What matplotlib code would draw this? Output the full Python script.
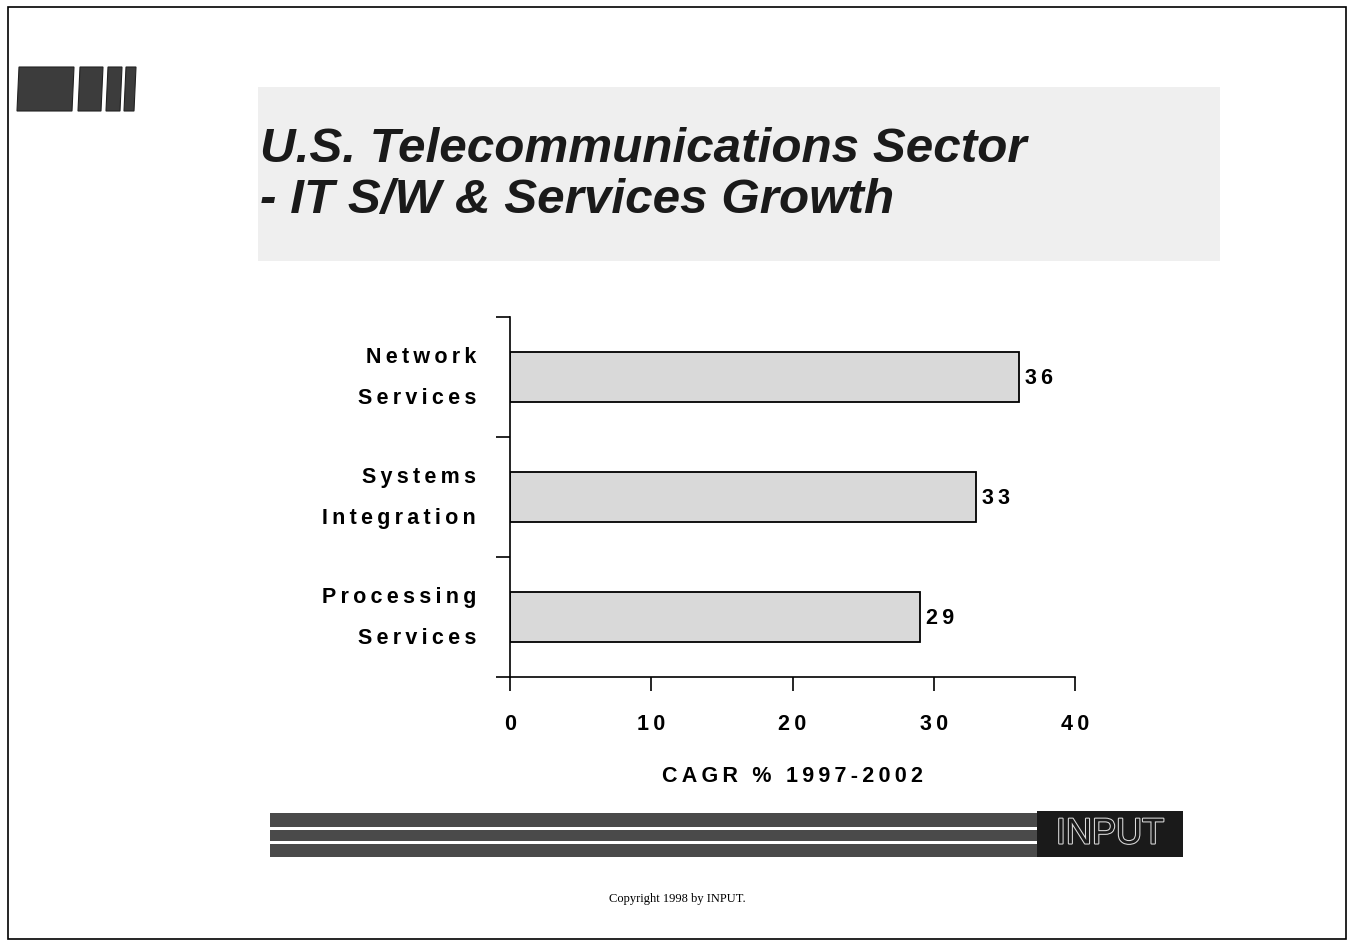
import matplotlib
matplotlib.use("Agg")
import matplotlib.pyplot as plt
import matplotlib.patheffects as pe
from matplotlib.patches import Rectangle, Polygon

# Data
categories = ["Processing\nServices", "Systems\nIntegration", "Network\nServices"]
values = [29, 33, 36]
x_ticks = [0, 10, 20, 30, 40]
title_lines = ["U.S. Telecommunications Sector", "- IT S/W & Services Growth"]
x_label = "CAGR % 1997-2002"

W, H = 1351, 945
fig = plt.figure(figsize=(13.51, 9.45), dpi=100)
fig.patch.set_facecolor("white")


def fx(px):
    return px / W


def fy(py):
    return 1 - py / H


def spaced(s):
    # the slide font is letter-spaced, add thin spaces between characters
    return "\u2009".join(s)


# Page frame
fig.add_artist(Rectangle((fx(8), fy(940)), fx(1338), 932 / H, transform=fig.transFigure,
                         fill=False, edgecolor="black", linewidth=1.2))

# Title background box
fig.add_artist(Rectangle((fx(258), fy(262)), fx(962), 174 / H, transform=fig.transFigure,
                         facecolor="#efefef", edgecolor="none"))
for line, ypix in zip(title_lines, [150, 200]):
    fig.text(fx(260), fy(ypix), line, fontsize=35.6, fontweight="bold", style="italic",
             family="Liberation Sans", color="#1a1a1a", va="center", ha="left")

# Logo at top left
segs = [(17, 74), (78, 103), (106, 122), (124, 136)]
for a, b in segs:
    fig.add_artist(Polygon([(fx(a), fy(112)), (fx(b - 2), fy(112)), (fx(b), fy(68)), (fx(a + 2), fy(68))],
                           closed=True, transform=fig.transFigure,
                           facecolor="#3c3c3c", edgecolor="#222222", linewidth=0.8))

# Main chart
ax = fig.add_axes([fx(510), fy(678), fx(565), 360 / H])
ax.barh(range(len(categories)), values, height=0.41, color="#d9d9d9",
        edgecolor="black", linewidth=1.3)
for i, v in enumerate(values):
    ax.text(v + 0.45, i, spaced(str(v)), va="center", ha="left", fontsize=15.5,
            fontweight="bold", family="Liberation Sans")

ax.set_xlim(0, 40)
ax.set_ylim(-0.5, 2.5)
ax.set_xticks(x_ticks)
ax.set_xticklabels([spaced(str(t)) for t in x_ticks], fontsize=15.5, fontweight="bold",
                   family="Liberation Sans")
ax.set_yticks([-0.5, 0.5, 1.5, 2.5])
ax.set_yticklabels([])
ax.tick_params(axis="x", direction="out", length=10, width=1.2, pad=16)
ax.tick_params(axis="y", direction="out", length=10, width=1.2)
for s in ["top", "right"]:
    ax.spines[s].set_visible(False)
for s in ["left", "bottom"]:
    ax.spines[s].set_linewidth(1.2)
ax.patch.set_alpha(0)

for i, c in enumerate(categories):
    top, bottom = c.split("\n")
    ax.text(-2.4, i + 0.17, spaced(top), ha="right", va="center", fontsize=15.5,
            fontweight="bold", family="Liberation Sans")
    ax.text(-2.4, i - 0.17, spaced(bottom), ha="right", va="center", fontsize=15.5,
            fontweight="bold", family="Liberation Sans")

ax.set_xlabel(spaced(x_label), fontsize=15.5, fontweight="bold", family="Liberation Sans",
              labelpad=22)

# Footer band
band_left, band_right = 270, 1037
fig.add_artist(Rectangle((fx(band_left), fy(858)), fx(band_right - band_left), 44 / H,
                         transform=fig.transFigure, facecolor="#4a4a4a", edgecolor="none"))
for yy in (829, 843):
    fig.add_artist(Rectangle((fx(band_left), fy(yy + 2)), fx(band_right - band_left), 3 / H,
                             transform=fig.transFigure, facecolor="white", edgecolor="none"))
fig.add_artist(Rectangle((fx(1037), fy(858)), fx(146), 46 / H, transform=fig.transFigure,
                         facecolor="#1a1a1a", edgecolor="none"))
fig.text(fx(1110), fy(835), "INPUT", fontsize=26, color="#1a1a1a", ha="center", va="center",
         family="Liberation Sans",
         path_effects=[pe.withStroke(linewidth=1.5, foreground="#dddddd")])

fig.text(fx(677), fy(899), "Copyright 1998 by INPUT.", fontsize=9, family="Liberation Serif",
         ha="center", va="center")

fig.savefig("out.png", dpi=100, facecolor="white")
